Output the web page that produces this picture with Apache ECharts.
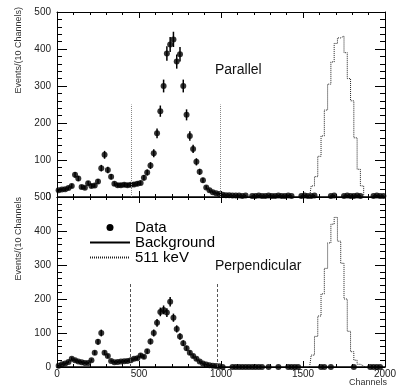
<!DOCTYPE html>
<html>
<head>
<meta charset="utf-8">
<script src="https://cdn.jsdelivr.net/npm/echarts@6/dist/echarts.min.js"></script>
<style>
html, body { margin: 0; padding: 0; background: #fff; }
#chart { width: 407px; height: 391px; }
</style>
</head>
<body>
<div id="chart"></div>
<script>
// bin centres (20 channel bins) of the data points
const channels = [10, 30, 50, 70, 90, 110, 130, 150, 170, 190,
  210, 230, 250, 270, 290, 310, 330, 350, 370, 390,
  410, 430, 450, 470, 490, 510, 530, 550, 570, 590,
  610, 630, 650, 670, 690, 710, 730, 750, 770, 790,
  810, 830, 850, 870, 890, 910, 930, 950, 970, 990,
  1010, 1030, 1050, 1070, 1090, 1110, 1130, 1150, 1170, 1190,
  1210, 1230, 1250, 1270, 1290, 1310, 1330, 1350, 1370, 1390,
  1410, 1430, 1450, 1470, 1490, 1510, 1530, 1550, 1570, 1590,
  1610, 1630, 1650, 1670, 1690, 1710, 1730, 1750, 1770, 1790,
  1810, 1830, 1850, 1870, 1890, 1910, 1930, 1950, 1970, 1990]

const parallelCounts = [18, 20, 21, 24, 30, 60, 50, 27, 25, 37,
  30, 31, 42, 78, 114, 73, 55, 36, 32, 32,
  33, 32, 33, 34, 36, 38, 52, 66, 85, 118,
  172, 232, 300, 388, 412, 426, 366, 386, 300, 222,
  165, 130, 95, 68, 45, 26, 18, 13, 10, 8,
  6, 5, 5, 4, 4, 4, 3, 4, null, 3,
  3, 4, 3, 3, 4, 3, 3, 4, 3, 3,
  4, 3, null, null, 3, 4, 3, 3, 4, null,
  null, null, null, 3, 4, null, null, 3, 4, 3,
  3, 4, 3, null, null, null, 3, 4, 3, 3]

const perpCounts = [4, 8, 10, 15, 24, 20, 16, 14, 12, 12,
  20, 42, 74, 100, 42, 32, 18, 14, 15, 16,
  17, 18, 20, 24, 26, 34, 30, 46, 75, 100,
  130, 162, 168, 160, 192, 145, 112, 90, 70, 55,
  42, 32, 24, 16, 10, 7, 5, 4, 3, 2,
  0, null, null, 0, 0, 0, 0, 0, 0, 0,
  0, 0, 0, null, 0, null, null, 0, null, null,
  0, 0, 0, 0, null, null, null, null, null, null,
  0, 0, null, 0, null, null, null, null, null, null,
  0, null, null, null, null, 0, 0, 0, 0, null]

// 511 keV reference histogram
const peakChannels = [1540, 1560, 1580, 1600, 1620, 1640, 1660, 1680, 1700,
  1720, 1740, 1760, 1780, 1800, 1820, 1840, 1860, 1880]
const parallelPeak = [0, 30, 55, 110, 165, 235, 305, 365, 415,
  430, 435, 390, 320, 260, 160, 75, 30, 0]
const perpPeak = [0, 35, 90, 150, 215, 290, 365, 420, 440,
  370, 305, 200, 105, 45, 20, 8, 3, 0]

const bgChannels = [0, 2000]
const bgCounts = [0, 0]

const parallelCuts = [450, 995]
const perpCuts = [445, 975]
const cutHeight = 250

const xTicks = [0, 500, 1000, 1500, 2000]
const yTicks = [0, 100, 200, 300, 400, 500]

const font = 'Liberation Sans, Arial, sans-serif'
const chart = echarts.init(document.getElementById('chart'))

const pairs = (xs, ys) => xs.map((x, i) => [x, ys[i]]).filter(p => p[1] !== null)

const xAxisFor = (grid, pos, labels) => ({
  type: 'value', gridIndex: grid, position: pos,
  min: xTicks[0], max: xTicks[xTicks.length - 1], interval: xTicks[1] - xTicks[0],
  axisLine: { onZero: false, lineStyle: { color: '#000', width: 1 } },
  axisTick: { inside: true, length: 6, lineStyle: { color: '#000' } },
  minorTick: { show: true, splitNumber: 5, length: 3, lineStyle: { color: '#000' } },
  splitLine: { show: false },
  axisLabel: { show: labels, color: '#222', fontSize: 10, fontFamily: font, margin: 2,
    showMinLabel: true, showMaxLabel: true, formatter: v => String(v) }
})

const yAxisFor = (grid, pos, labels) => ({
  type: 'value', gridIndex: grid, position: pos,
  min: yTicks[0], max: yTicks[yTicks.length - 1], interval: yTicks[1] - yTicks[0],
  axisLine: { onZero: false, lineStyle: { color: '#000', width: 1 } },
  axisTick: { inside: true, length: 10, lineStyle: { color: '#000' } },
  minorTick: { show: true, splitNumber: 5, length: 5, lineStyle: { color: '#000' } },
  splitLine: { show: false },
  axisLabel: { show: labels, color: '#222', fontSize: 10, fontFamily: font, margin: 6,
    showMinLabel: true, showMaxLabel: true, formatter: v => String(v) }
})

const errorBars = (xs, ys, ax) => ({
  type: 'custom', xAxisIndex: ax, yAxisIndex: ax, silent: true, clip: false,
  data: pairs(xs, ys),
  renderItem: (params, api) => {
    const x = api.value(0)
    const v = api.value(1)
    const e = Math.sqrt(v)
    const p1 = api.coord([x, v + e])
    const p2 = api.coord([x, Math.max(0, v - e)])
    return {
      type: 'line',
      shape: { x1: p1[0], y1: p1[1], x2: p2[0], y2: p2[1] },
      style: { stroke: '#000', lineWidth: 1.5 }
    }
  }
})

const cutLines = (cuts, color, dash) => ({
  symbol: 'none', silent: true, label: { show: false },
  lineStyle: { color: color, type: dash, width: 1 },
  data: cuts.map(c => [{ coord: [c, 0] }, { coord: [c, cutHeight] }])
})

const panelSeries = (counts, peak, ax, cuts, cutColor, cutDash) => [
  {
    name: 'Background', type: 'line', xAxisIndex: ax, yAxisIndex: ax,
    data: pairs(bgChannels, bgCounts), symbol: 'none',
    itemStyle: { color: '#000' },
    lineStyle: { color: '#000', width: 1.5 }
  },
  {
    name: '511 keV', type: 'line', xAxisIndex: ax, yAxisIndex: ax,
    data: pairs(peakChannels, peak), step: 'middle', symbol: 'none',
    itemStyle: { color: '#222' },
    lineStyle: { color: '#222', width: 1, type: [1, 1] },
    markLine: cutLines(cuts, cutColor, cutDash)
  },
  errorBars(channels, counts, ax),
  {
    name: 'Data', type: 'scatter', xAxisIndex: ax, yAxisIndex: ax,
    data: pairs(channels, counts), symbol: 'circle', symbolSize: 6, clip: false,
    itemStyle: { color: '#000' }
  }
]

const option = {
  animation: false,
  grid: [
    { left: 57, top: 12, width: 328, height: 185 },
    { left: 57, top: 197, width: 328, height: 170 }
  ],
  xAxis: [
    xAxisFor(0, 'bottom', false), xAxisFor(0, 'top', false),
    xAxisFor(1, 'bottom', true), xAxisFor(1, 'top', false)
  ],
  yAxis: [
    yAxisFor(0, 'left', true), yAxisFor(0, 'right', false),
    yAxisFor(1, 'left', true), yAxisFor(1, 'right', false)
  ],
  legend: {
    orient: 'vertical', left: 84, top: 215,
    itemWidth: 40, itemHeight: 7, itemGap: 0, selectedMode: false,
    textStyle: { fontSize: 15, lineHeight: 12, color: '#000', fontFamily: font },
    data: [
      { name: 'Data', icon: 'circle', itemStyle: { color: '#000', opacity: 1 } },
      { name: 'Background', itemStyle: { opacity: 0 } },
      { name: '511 keV', itemStyle: { opacity: 0 } }
    ]
  },
  graphic: [
    { type: 'text', x: 19, y: 7, rotation: Math.PI / 2,
      style: { text: 'Events/(10 Channels)', font: '9px ' + font, fill: '#333',
        align: 'right', verticalAlign: 'middle' } },
    { type: 'text', x: 19, y: 197, rotation: Math.PI / 2,
      style: { text: 'Events/(10 Channels', font: '9px ' + font, fill: '#333',
        align: 'right', verticalAlign: 'middle' } },
    { type: 'text', x: 387, y: 383,
      style: { text: 'Channels', font: '9px ' + font, fill: '#333',
        align: 'right', verticalAlign: 'middle' } },
    { type: 'text', x: 215, y: 70,
      style: { text: 'Parallel', font: '14px ' + font, fill: '#111',
        align: 'left', verticalAlign: 'middle' } },
    { type: 'text', x: 215, y: 266,
      style: { text: 'Perpendicular', font: '14px ' + font, fill: '#111',
        align: 'left', verticalAlign: 'middle' } }
  ],
  series: [
    ...panelSeries(parallelCounts, parallelPeak, 0, parallelCuts, '#888', 'dotted'),
    ...panelSeries(perpCounts, perpPeak, 2, perpCuts, '#555', [3, 2])
  ]
}
chart.setOption(option)
</script>
</body>
</html>
